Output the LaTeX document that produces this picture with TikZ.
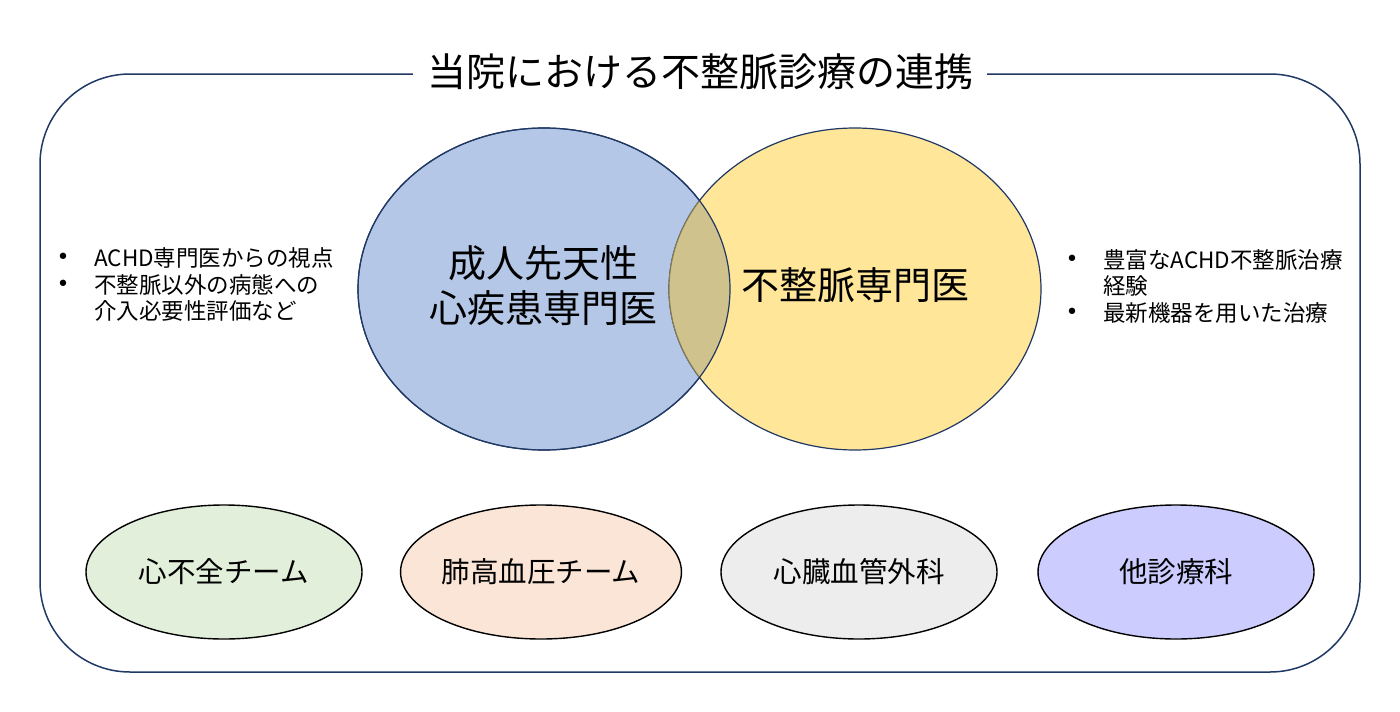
\documentclass[tikz,border=0pt]{standalone}
\usepackage{fontspec}
\setmainfont{Noto Sans CJK JP}
\newfontfamily\dejavu{DejaVu Sans}
\usetikzlibrary{shapes.geometric}
\definecolor{navy}{HTML}{203864}
\definecolor{cblue}{HTML}{B4C7E7}
\definecolor{cyellow}{HTML}{FFE699}
\definecolor{ctan}{HTML}{CFC28C}
\definecolor{cbrown}{HTML}{857A52}
\definecolor{cgreen}{HTML}{E2EFDA}
\definecolor{cpeach}{HTML}{FBE5D6}
\definecolor{cgray}{HTML}{EDEDED}
\definecolor{clav}{HTML}{CCCCFF}
\begin{document}
\begin{tikzpicture}[x=1pt,y=-1pt,
  bigell/.style={ellipse, draw=navy, line width=1.2pt, minimum width=372pt, minimum height=322pt, inner sep=0pt},
  smell/.style={ellipse, draw=black, line width=1.4pt, minimum width=276pt, minimum height=134pt, inner sep=0pt, font=\fontsize{28.5}{34}\selectfont},
  bigtxt/.style={font=\fontsize{38}{45}\selectfont, align=center, inner sep=0pt},
  bultxt/.style={font=\fontsize{22.5}{26}\selectfont, anchor=west, inner sep=0pt},
  bulmark/.style={font=\dejavu\fontsize{22}{24}\selectfont, inner sep=0pt}]
\useasboundingbox (0,0) rectangle (1400,712);
% outer frame
\draw[navy, line width=1.5pt, rounded corners=90pt] (40,74) rectangle (1360,672);
\node[fill=white, inner xsep=14pt, inner ysep=4pt, font=\fontsize{39}{44}\selectfont] (title) at (700,72) {当院における不整脈診療の連携};
% Venn
\node[bigell, fill=cblue] (adult) at (544,289) {};
\node[bigell, fill=cyellow] (arr) at (855,289) {};
\begin{scope}
  \clip (544,289) ellipse [x radius=186pt, y radius=161pt];
  \fill[ctan] (855,289) ellipse [x radius=186pt, y radius=161pt];
  \draw[cbrown, line width=1.1pt] (855,289) ellipse [x radius=186pt, y radius=161pt];
\end{scope}
\draw[navy, line width=1.2pt] (544,289) ellipse [x radius=186pt, y radius=161pt];
\node[bigtxt] (adulttxt) at (543,286) {成人先天性\\心疾患専門医};
\node[bigtxt] (arrtxt) at (855,285) {不整脈専門医};
% left bullets
\node[bulmark] (lb1) at (63,259) {•};
\node[bultxt] (lt1) at (94,258) {ACHD専門医からの視点};
\node[bulmark] (lb2) at (63,286) {•};
\node[bultxt] (lt2) at (94,285) {不整脈以外の病態への};
\node[bultxt] (lt3) at (94,311) {介入必要性評価など};
% right bullets
\node[bulmark] (rb1) at (1072,261) {•};
\node[bultxt] (rt1) at (1103,260) {豊富なACHD不整脈治療};
\node[bultxt] (rt2) at (1103,286) {経験};
\node[bulmark] (rb2) at (1072,314) {•};
\node[bultxt] (rt3) at (1103,313) {最新機器を用いた治療};
% bottom teams
\node[smell, fill=cgreen] (hf) at (224,572) {心不全チーム};
\node[smell, fill=cpeach] (ph) at (541,572) {肺高血圧チーム};
\node[smell, fill=cgray] (cvs) at (859,572) {心臓血管外科};
\node[smell, fill=clav] (oth) at (1176,572) {他診療科};
\end{tikzpicture}
\end{document}
